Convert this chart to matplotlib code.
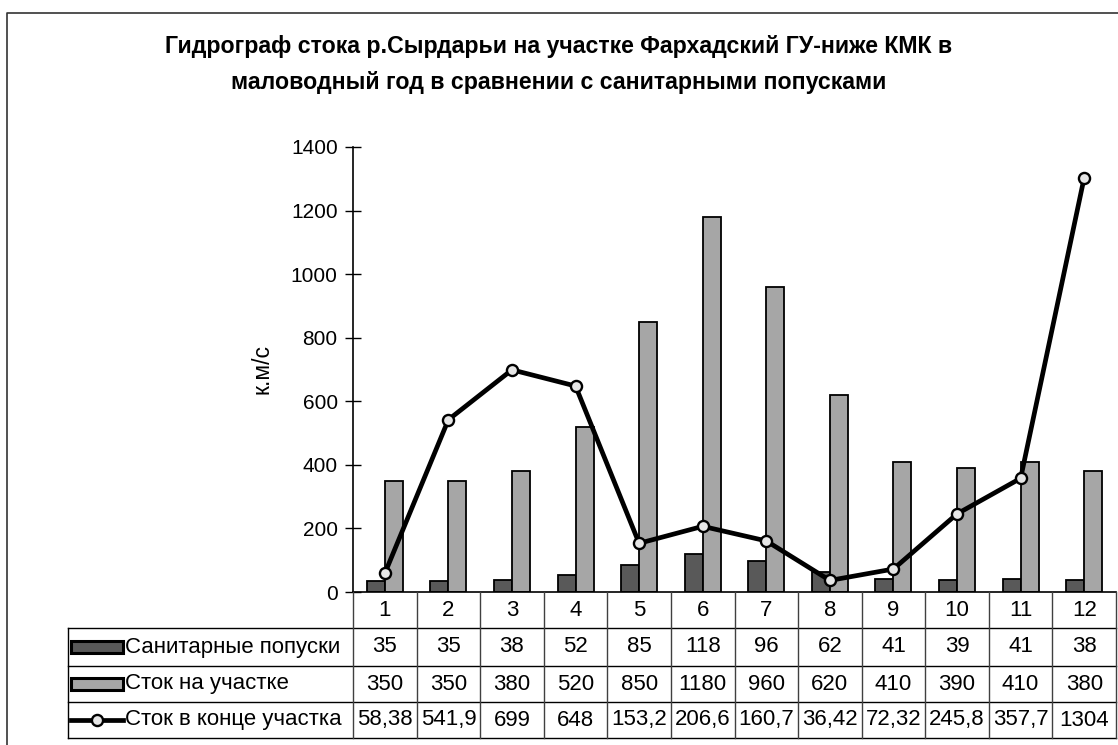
import numpy as np
import matplotlib
matplotlib.use("Agg")
import matplotlib.pyplot as plt
from matplotlib import transforms
from matplotlib.lines import Line2D
from matplotlib.patches import Rectangle

plt.rcParams["font.family"] = ["Liberation Sans", "DejaVu Sans"]

# data
months = ["1", "2", "3", "4", "5", "6", "7", "8", "9", "10", "11", "12"]
sanitary = [35, 35, 38, 52, 85, 118, 96, 62, 41, 39, 41, 38]
flow_section = [350, 350, 380, 520, 850, 1180, 960, 620, 410, 390, 410, 380]
flow_end = [58.38, 541.9, 699, 648, 153.2, 206.6, 160.7, 36.42, 72.32, 245.8, 357.7, 1304]
series_names = ["Санитарные попуски", "Сток на участке", "Сток в конце участка"]
title_lines = ["Гидрограф стока р.Сырдарьи на участке Фархадский ГУ-ниже КМК в",
               "маловодный год в сравнении с санитарными попусками"]
ylabel = "к.м/с"

W, H = 1118, 745
dark = "#595959"
light = "#a6a6a6"


def fx(px):
    return px / W


def fy(py):
    return 1 - py / H


fig = plt.figure(figsize=(W / 100, H / 100), dpi=100)
fig.patch.set_facecolor("white")

# outer frame (left and top edges visible)
fig.add_artist(Line2D([fx(7), fx(7), 1.0], [0.0, fy(13), fy(13)],
                      transform=fig.transFigure, color="#333333", lw=1.2))

for i, line in enumerate(title_lines):
    fig.text(0.5, fy(47 + 35 * i), line, ha="center", va="center",
             fontsize=16.7, fontweight="bold")

ax_left, ax_right, ax_top, ax_bot = 353, 1116, 147, 592
ax = fig.add_axes([fx(ax_left), fy(ax_bot), fx(ax_right - ax_left),
                   (ax_bot - ax_top) / H])

x = np.arange(len(months))
bw = 0.283
ax.bar(x - bw / 2, sanitary, bw, color=dark, edgecolor="black", lw=1.3, zorder=2)
ax.bar(x + bw / 2, flow_section, bw, color=light, edgecolor="black", lw=1.3, zorder=2)
ax.plot(x, flow_end, color="black", lw=3.4, marker="o", ms=8,
        mfc="#e6e6e6", mec="black", mew=1.7, zorder=3)

ax.set_xlim(-0.5, len(months) - 0.5)
ax.set_ylim(0, 1400)
ax.set_yticks(np.arange(0, 1401, 200))
ax.tick_params(axis="y", direction="inout", length=12, width=1, labelsize=15, pad=5)
ax.tick_params(axis="x", bottom=False, labelbottom=False)
for s in ["top", "right"]:
    ax.spines[s].set_visible(False)
ax.spines["left"].set_linewidth(1.2)
ax.spines["bottom"].set_linewidth(1.2)
fig.text(fx(262), fy(369), ylabel, rotation=90, ha="center", va="center", fontsize=16.5)

# data table under the axis
blend = transforms.blended_transform_factory(ax.transData, fig.transFigure)
rows_y = [592, 628, 666, 702, 738]
leg_left = 68
for yy in rows_y[1:]:
    fig.add_artist(Line2D([fx(leg_left), fx(ax_right)], [fy(yy), fy(yy)],
                          transform=fig.transFigure, color="black", lw=1))
fig.add_artist(Line2D([fx(leg_left), fx(leg_left)], [fy(rows_y[1]), fy(rows_y[-1])],
                      transform=fig.transFigure, color="black", lw=1))
for k in range(len(months) + 1):
    fig.add_artist(Line2D([k - 0.5, k - 0.5], [fy(rows_y[0]), fy(rows_y[-1])],
                          transform=blend, color="#404040", lw=1))

row_vals = [months,
            [str(v) for v in sanitary],
            [str(v) for v in flow_section],
            [f"{v:g}".replace(".", ",") for v in flow_end]]
for r, vals in enumerate(row_vals):
    yc = fy((rows_y[r] + rows_y[r + 1]) / 2)
    for k, v in enumerate(vals):
        fig.text(k, yc, v, transform=blend, ha="center", va="center", fontsize=16)

# row labels with legend keys
key_l, key_r = 71, 123
for r, name in enumerate(series_names):
    yc_px = (rows_y[r + 1] + rows_y[r + 2]) / 2
    if r < 2:
        fig.add_artist(Rectangle((fx(key_l), fy(yc_px + 6)), fx(key_r - key_l), 12 / H,
                                 transform=fig.transFigure,
                                 facecolor=dark if r == 0 else light,
                                 edgecolor="black", lw=2.2))
    else:
        fig.add_artist(Line2D([fx(key_l), fx(key_r)], [fy(yc_px), fy(yc_px)],
                              transform=fig.transFigure, color="black", lw=3.4))
        fig.add_artist(Line2D([fx((key_l + key_r) / 2)], [fy(yc_px)],
                              transform=fig.transFigure, marker="o", ms=8,
                              mfc="#e6e6e6", mec="black", mew=1.7))
    fig.text(fx(125), fy(yc_px), name, ha="left", va="center", fontsize=16)

fig.savefig("out.png", dpi=100)
